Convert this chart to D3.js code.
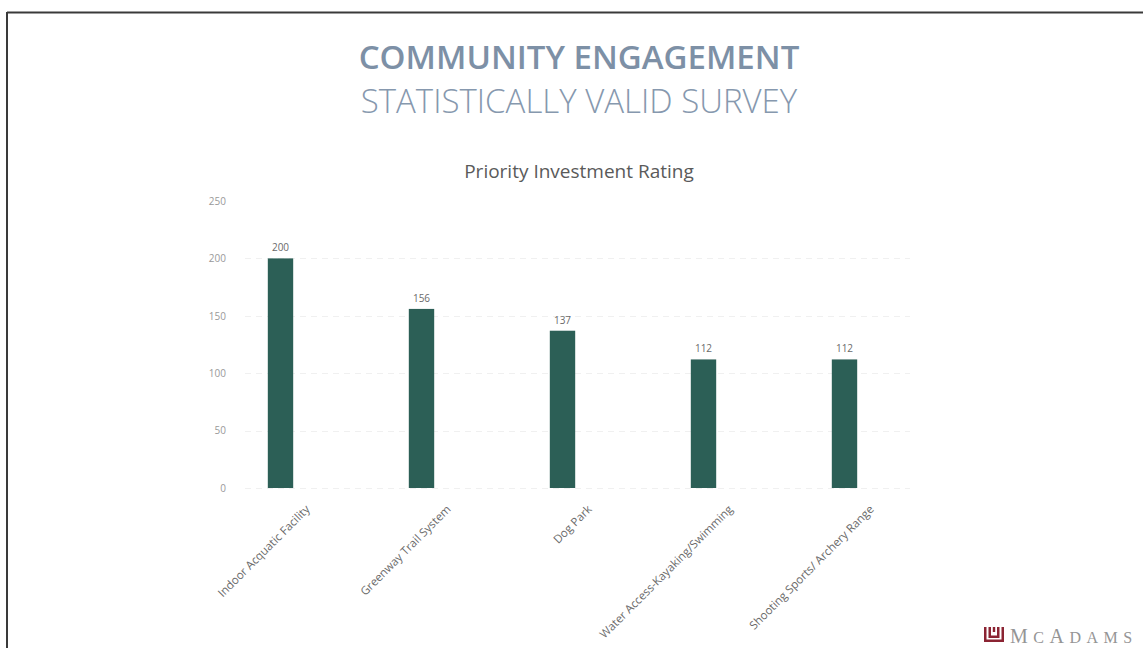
<!DOCTYPE html>
<html>
<head>
<meta charset="utf-8">
<title>Priority Investment Rating</title>
<script src="https://cdn.jsdelivr.net/npm/d3@7"></script>
<style>
  body { margin: 0; background: #fff; }
  .axis text { font: 10px "Open Sans", sans-serif; fill: #999; }
  .axis path, .axis line { display: none; }
  .grid line { stroke: #f0f0f0; stroke-width: 1; }
</style>
</head>
<body>
<svg id="chart" width="1143" height="648"></svg>
<script>
var categories = ["Indoor Acquatic Facility", "Greenway Trail System", "Dog Park",
                  "Water Access-Kayaking/Swimming", "Shooting Sports/ Archery Range"];
var values = [200, 156, 137, 112, 112];
var yTicks = [0, 50, 100, 150, 200, 250];

var svg = d3.select("#chart");

// slide frame
svg.append("line").attr("x1", 7).attr("x2", 1143).attr("y1", 12.5).attr("y2", 12.5)
  .attr("stroke", "#3a3a3a").attr("stroke-width", 2);
svg.append("line").attr("x1", 7).attr("x2", 7).attr("y1", 12).attr("y2", 648)
  .attr("stroke", "#3a3a3a").attr("stroke-width", 2);

// titles
svg.append("text").attr("x", 579).attr("y", 69).attr("text-anchor", "middle")
  .style("font", "600 33px 'Open Sans', sans-serif").style("fill", "#7d90a6")
  .text("COMMUNITY ENGAGEMENT");
svg.append("text").attr("x", 579).attr("y", 113).attr("text-anchor", "middle")
  .style("font", "300 33px 'Open Sans', sans-serif").style("fill", "#8698ae")
  .text("STATISTICALLY VALID SURVEY");
svg.append("text").attr("x", 579).attr("y", 178).attr("text-anchor", "middle")
  .style("font", "19px 'Open Sans', sans-serif").style("fill", "#5a5a5a")
  .text("Priority Investment Rating");

var x = d3.scaleBand()
  .domain(categories)
  .range([210, 915])
  .paddingInner(0.82)
  .paddingOuter(0.41);

var y = d3.scaleLinear()
  .domain([0, 250])
  .range([488, 201]);

// gridlines
svg.append("g").attr("class", "grid")
  .selectAll("line").data(yTicks.slice(0, 5)).enter().append("line")
  .attr("x1", 245).attr("x2", 910)
  .attr("y1", function(d){ return Math.round(y(d)) + 0.5; })
  .attr("y2", function(d){ return Math.round(y(d)) + 0.5; })
  .attr("stroke-dasharray", "6,5");

// y axis
svg.append("g").attr("class", "axis")
  .attr("transform", "translate(228,0)")
  .call(d3.axisLeft(y).tickValues(yTicks).tickSize(0).tickPadding(2));

// bars
svg.selectAll(".bar").data(values).enter().append("rect")
  .attr("class", "bar")
  .attr("x", function(d, i){ return x(categories[i]); })
  .attr("y", function(d){ return y(d); })
  .attr("width", x.bandwidth())
  .attr("height", function(d){ return y(0) - y(d); })
  .attr("fill", "#2c5f56");

// value labels
svg.selectAll(".val").data(values).enter().append("text")
  .attr("x", function(d, i){ return x(categories[i]) + x.bandwidth() / 2; })
  .attr("y", function(d){ return y(d) - 7; })
  .attr("text-anchor", "middle")
  .style("font", "10px 'Open Sans', sans-serif").style("fill", "#6a6a6a")
  .text(function(d){ return d; });

// category labels
svg.selectAll(".cat").data(categories).enter().append("text")
  .attr("transform", function(d){
    return "translate(" + (x(d) + x.bandwidth() / 2 + 30) + ",510) rotate(-45)";
  })
  .attr("text-anchor", "end")
  .style("font", "11.5px 'Open Sans', sans-serif").style("fill", "#6a6a6a")
  .text(function(d){ return d; });

// logo
var logo = svg.append("g").attr("transform", "translate(984,627)");
logo.append("path")
  .attr("d", "M0,0 h2.5 v12.5 h15 v-12.5 h2.5 v15 h-20 z M4.5,0 h2.5 v8.5 h6 v-8.5 h2.5 v11 h-11 z M8.8,0 h2.4 v5 h-2.4 z")
  .attr("fill", "#8b2433");
var lt = logo.append("text").attr("x", 26).attr("y", 16)
  .style("font-family", "'Liberation Serif', serif").style("fill", "#959595")
  .style("letter-spacing", "5.5px");
lt.append("tspan").style("font-size", "20px").text("M");
lt.append("tspan").style("font-size", "16px").text("C");
lt.append("tspan").style("font-size", "20px").text("A");
lt.append("tspan").style("font-size", "16px").text("DAMS");
</script>
</body>
</html>
